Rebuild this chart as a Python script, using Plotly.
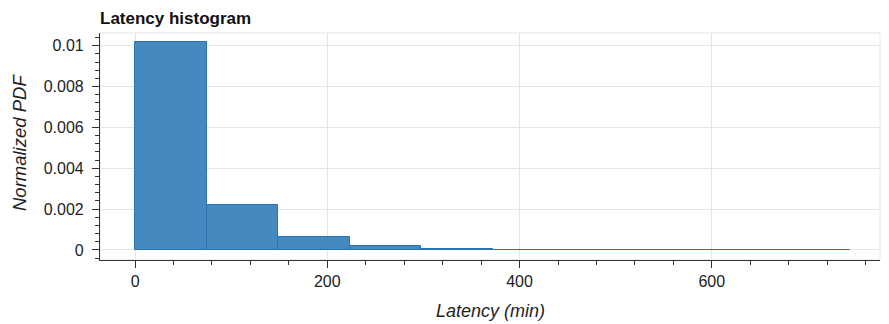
import plotly.graph_objects as go

# Histogram data (bin edges in minutes, normalized density)
bin_edges = [0, 74.4, 148.8, 223.2, 297.6, 372.0, 446.4, 520.8, 595.2, 669.6, 744.0]
density = [0.0102, 0.00222, 0.00063, 0.00021, 0.00005, 0.00002, 0.000015, 0.00001, 0.00001, 0.00001]

x_ticks = [0, 200, 400, 600]
y_ticks = [0, 0.002, 0.004, 0.006, 0.008, 0.01]
y_tick_labels = ["0", "0.002", "0.004", "0.006", "0.008", "0.01"]

centers = [(bin_edges[i] + bin_edges[i + 1]) / 2 for i in range(len(density))]
widths = [bin_edges[i + 1] - bin_edges[i] for i in range(len(density))]

fig = go.Figure()
fig.add_trace(go.Bar(
    x=centers, y=density, width=widths,
    marker=dict(color="rgb(68,137,192)", line=dict(color="rgb(45,115,175)", width=1)),
    hoverinfo="x+y",
))

font_family = "Liberation Sans, Arial, Helvetica, sans-serif"

# the page body adds an 8px margin, so the figure is 8px smaller and offset accordingly
W, H = 881, 316
PW, PH = 780, 227
fig.update_layout(
    width=W, height=H,
    margin=dict(l=92, r=9, t=25, b=64, autoexpand=False),
    paper_bgcolor="white", plot_bgcolor="white",
    showlegend=False,
    bargap=0,
    font=dict(family=font_family, size=13, color="#222"),
    title=dict(text="<b>Latency histogram</b>", x=92 / W, xanchor="left", xref="container",
               y=1 - 10 / H, yref="container", yanchor="middle", font=dict(size=17, color="#111")),
    xaxis=dict(
        range=[-36.5, 775], tickmode="array", tickvals=x_ticks,
        ticks="outside", ticklen=7, tickwidth=1.2, tickcolor="#333",
        showline=True, linecolor="#333", linewidth=1.2,
        showgrid=True, gridcolor="#e5e5e5", gridwidth=1,
        zeroline=False, mirror=False, automargin=False,
        tickfont=dict(size=16, color="#222"),
        minor=dict(dtick=40, tick0=0, ticks="outside", ticklen=4, tickcolor="#333", showgrid=False),
    ),
    yaxis=dict(
        range=[-0.00049, 0.01062], tickmode="array", tickvals=y_ticks, ticktext=y_tick_labels,
        ticks="outside", ticklen=7, tickwidth=1.2, tickcolor="#333",
        showline=True, linecolor="#333", linewidth=1.2,
        showgrid=True, gridcolor="#e5e5e5", gridwidth=1,
        zeroline=False, automargin=False,
        tickfont=dict(size=16, color="#222"),
        ticklabelstandoff=5,
        minor=dict(dtick=0.0004, tick0=0, ticks="outside", ticklen=4, tickcolor="#333", showgrid=False),
    ),
    annotations=[
        dict(text="<i>Latency (min)</i>", xref="paper", yref="paper", x=0.5, y=-(311 - 260) / PH,
             xanchor="center", yanchor="middle", showarrow=False, font=dict(size=18, color="#222")),
        dict(text="<i>Normalized PDF</i>", xref="paper", yref="paper", x=-(92 - 11) / PW,
             y=1 - (143 - 33) / PH, xanchor="center", yanchor="middle", textangle=-90,
             showarrow=False, font=dict(size=18.5, color="#222"), borderpad=0),
    ],
)

# light plot outline (top and right)
fig.add_shape(type="rect", xref="paper", yref="paper", x0=0, y0=0, x1=1, y1=1,
              line=dict(color="#e5e5e5", width=1), layer="below")
# toolbar indicator at the top right
fig.add_shape(type="rect", xref="paper", yref="paper", x0=1 + 5 / PW, x1=1 + 8 / PW,
              y0=1 - 37 / PH, y1=1 - 2 / PH, layer="above",
              line=dict(width=0), fillcolor="#2ea8df")

fig.write_html("out.html")
